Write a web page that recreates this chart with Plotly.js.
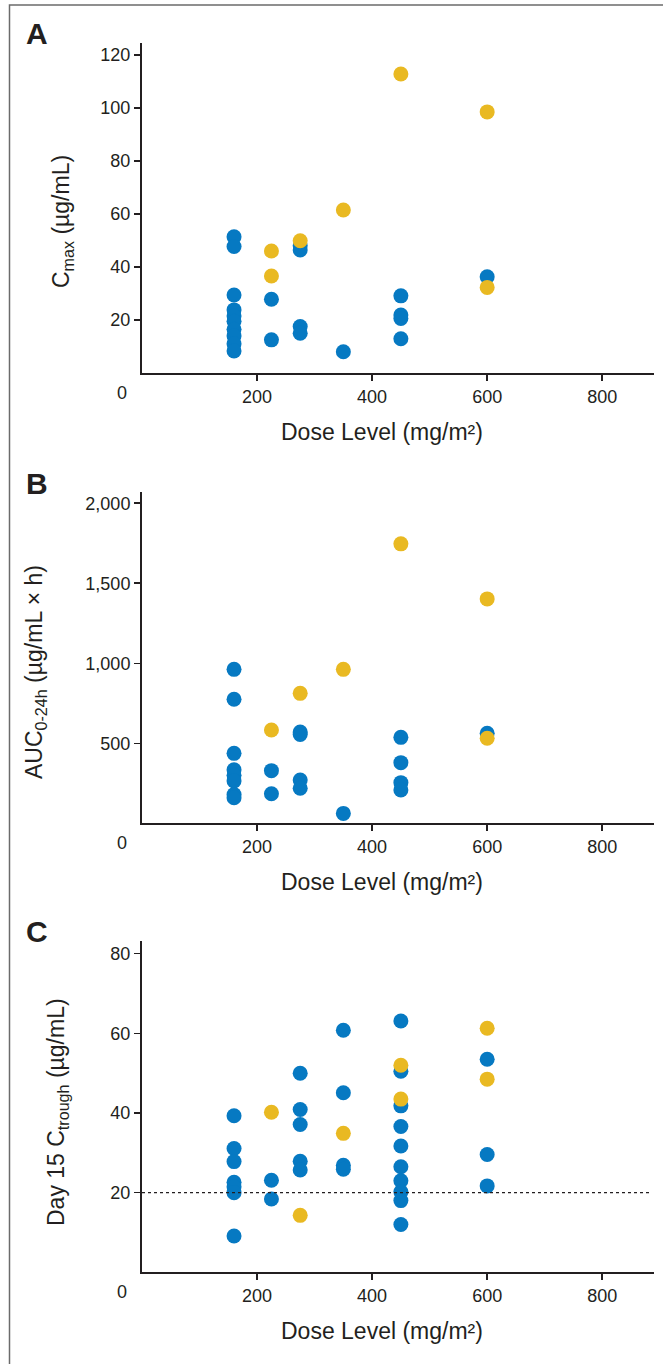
<!DOCTYPE html>
<html>
<head>
<meta charset="utf-8">
<script src="https://cdn.plot.ly/plotly-3.0.1.min.js"></script>
<style>
  html, body { margin: 0; padding: 0; background: #fff; }
  #chart { width: 663px; height: 1364px; }
</style>
</head>
<body>
<div id="chart"></div>
<script>
// ---------- DATA ----------
const doseTicks = [200, 400, 600, 800];
const cmaxTicks = [20, 40, 60, 80, 100, 120];
const aucTicks = [500, 1000, 1500, 2000];
const troughTicks = [20, 40, 60, 80];
const troughThreshold = 20;

// Panel A: Cmax (µg/mL)
const cmaxBlueDose = [160,160,160,160,160,160,160,160,160,160, 225,225, 275,275,275,275, 350, 450,450,450,450, 600];
const cmaxBlueVal  = [51.4,47.7,29.4,23.8,21.5,19.5,16.5,14.0,11.0,8.3, 27.8,12.5, 48.0,46.4,17.5,15.0, 8.0, 29.1,21.9,20.6,12.9, 36.3];
const cmaxGoldDose = [225,225, 275, 350, 450, 600,600];
const cmaxGoldVal  = [46.0,36.6, 49.9, 61.5, 112.8, 98.5,32.3];

// Panel B: AUC0-24h (µg/mL × h)
const aucBlueDose = [160,160,160,160,160,160,160,160, 225,225, 275,275,275,275, 350, 450,450,450,450, 600];
const aucBlueVal  = [962,775,437,335,300,265,180,160, 329,185, 570,555,271,219, 62, 537,379,254,208, 562];
const aucGoldDose = [225, 275, 350, 450, 600,600];
const aucGoldVal  = [583, 812, 962, 1746, 1402,531];

// Panel C: Day 15 Ctrough (µg/mL)
const troughBlueDose = [160,160,160,160,160,160,160, 225,225, 275,275,275,275,275, 350,350,350,350, 450,450,450,450,450,450,450,450,450,450, 600,600,600];
const troughBlueVal  = [39.3,31.1,27.8,22.6,21.5,20.0,9.1, 23.1,18.4, 50.0,40.9,37.1,27.9,25.7, 60.8,45.1,26.9,25.9, 63.1,50.5,41.8,36.6,31.7,26.5,23.0,20.2,18.0,12.0, 53.5,29.6,21.7];
const troughGoldDose = [225, 275, 350, 450,450, 600,600];
const troughGoldVal  = [40.2, 14.3, 34.9, 52.0,43.5, 61.3,48.5];

// ---------- STYLE / LAYOUT ----------
const W = 663, H = 1364;
const BLUE = '#0679c2', GOLD = '#e9b922', INK = '#231f20';
const FONT = '"Liberation Sans Narrow", "Arial Narrow", "Liberation Sans", Arial, sans-serif';
const px = v => v / W;            // horizontal pixel -> paper
const py = v => 1 - v / H;        // vertical pixel -> paper

const xDomain = [px(142), px(654)];
const panels = [
  {bottom: 373,   top: 43,  range: [0, 124.5], ticks: cmaxTicks,   fmt: '',  letter: 'A', ltrY: 34,
   yTitle: 'C<sub>max</sub> (µg/mL)', yTitleX: 63, yTitleY: 222},
  {bottom: 823.3, top: 492, range: [0, 2070],  ticks: aucTicks,    fmt: ',', letter: 'B', ltrY: 483,
   yTitle: 'AUC<sub>0-24h</sub> (µg/mL × h)', yTitleX: 35, yTitleY: 672},
  {bottom: 1272.3, top: 941, range: [0, 83.2], ticks: troughTicks, fmt: '',  letter: 'C', ltrY: 932,
   yTitle: 'Day 15 C<sub>trough</sub> (µg/mL)', yTitleX: 57, yTitleY: 1112}
];

function mk(x, y, color, i) {
  return {
    type: 'scatter', mode: 'markers', x: x, y: y,
    xaxis: 'x' + (i === 0 ? '' : i + 1), yaxis: 'y' + (i === 0 ? '' : i + 1),
    marker: {color: color, size: 15, line: {width: 0}},
    hoverinfo: 'skip', showlegend: false, cliponaxis: false
  };
}

const traces = [
  mk(cmaxBlueDose, cmaxBlueVal, BLUE, 0),
  mk(cmaxGoldDose, cmaxGoldVal, GOLD, 0),
  mk(aucBlueDose, aucBlueVal, BLUE, 1),
  mk(aucGoldDose, aucGoldVal, GOLD, 1),
  mk(troughBlueDose, troughBlueVal, BLUE, 2),
  mk(troughGoldDose, troughGoldVal, GOLD, 2)
];

const layout = {
  width: W, height: H,
  margin: {l: 0, r: 0, t: 0, b: 0},
  paper_bgcolor: '#fff', plot_bgcolor: '#fff',
  font: {family: FONT, color: INK, size: 18},
  showlegend: false,
  annotations: [],
  shapes: [
    {type: 'rect', xref: 'paper', yref: 'paper', x0: px(9.5), x1: px(700), y0: py(1400), y1: py(5),
     line: {color: '#6b6b6b', width: 1.5}, fillcolor: 'rgba(0,0,0,0)', layer: 'below'},
    {type: 'line', xref: 'x3', yref: 'y3', x0: 0, x1: 885, y0: troughThreshold, y1: troughThreshold,
     line: {color: INK, width: 1.3, dash: 'dot'}}
  ]
};

panels.forEach((p, i) => {
  const s = i === 0 ? '' : String(i + 1);
  layout['xaxis' + s] = {
    domain: xDomain, range: [0, 890], anchor: 'y' + s,
    tickmode: 'array', tickvals: doseTicks, ticktext: doseTicks.map(String),
    showline: true, linecolor: INK, linewidth: 2,
    ticks: 'outside', ticklen: 6, tickwidth: 1.5, tickcolor: INK,
    showgrid: false, zeroline: false, fixedrange: true,
    tickfont: {family: FONT, size: 18, color: INK}
  };
  layout['yaxis' + s] = {
    domain: [py(p.bottom), py(p.top)], range: p.range, anchor: 'x' + s,
    tickmode: 'array', tickvals: p.ticks, tickformat: p.fmt,
    showline: true, linecolor: INK, linewidth: 2,
    ticks: 'outside', ticklen: 6, tickwidth: 1.5, tickcolor: INK,
    showgrid: false, zeroline: false, fixedrange: true,
    tickfont: {family: FONT, size: 18, color: INK}
  };
  // origin label "0"
  layout.annotations.push({xref: 'paper', yref: 'paper', x: px(122), y: py(p.bottom + 20),
    text: '0', showarrow: false, xanchor: 'center', yanchor: 'middle',
    font: {family: FONT, size: 18, color: INK}});
  // x title
  layout.annotations.push({xref: 'paper', yref: 'paper', x: px(382), y: py(p.bottom + 59),
    text: 'Dose Level (mg/m²)', showarrow: false, xanchor: 'center', yanchor: 'middle',
    font: {family: FONT, size: 23, color: INK}});
  // y title
  layout.annotations.push({xref: 'paper', yref: 'paper', x: px(p.yTitleX), y: py(p.yTitleY),
    text: p.yTitle, showarrow: false, textangle: -90, xanchor: 'center', yanchor: 'middle',
    font: {family: FONT, size: 23, color: INK}});
  // panel letter
  layout.annotations.push({xref: 'paper', yref: 'paper', x: px(37), y: py(p.ltrY),
    text: p.letter, showarrow: false, xanchor: 'center', yanchor: 'middle',
    font: {family: FONT, size: 30, color: INK, weight: 'bold'}});
});

Plotly.newPlot('chart', traces, layout, {staticPlot: true, displayModeBar: false});
</script>
</body>
</html>
